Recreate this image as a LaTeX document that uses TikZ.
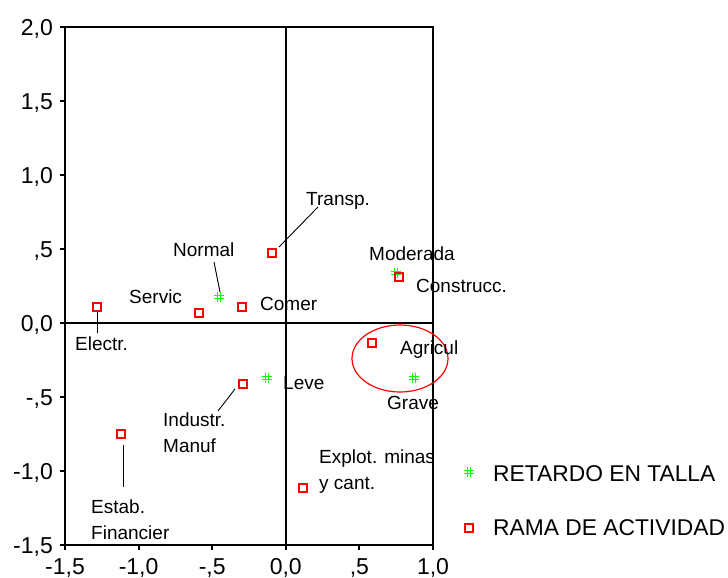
\documentclass[tikz,border=0pt]{standalone}
\usepackage{fontspec}
\setmainfont{Liberation Sans}
\usetikzlibrary{calc,shapes.geometric}
\tikzset{
  frameline/.style={draw=black, line width=1.6pt},
  tickline/.style={draw=black, line width=2pt},
  leader/.style={draw=black, line width=0.9pt},
  sqmark/.style={draw=red, line width=1.3pt, minimum size=8pt, inner sep=0pt, outer sep=0pt},
  starmark/.style={minimum size=12pt, inner sep=0pt, outer sep=0pt,
    path picture={
      \draw[green, line width=1.3pt]
        ([shift={(-5pt,1.7pt)}]path picture bounding box.center) -- ++(10pt,0pt)
        ([shift={(-5pt,-1.7pt)}]path picture bounding box.center) -- ++(10pt,0pt)
        ([shift={(-1.7pt,-5pt)}]path picture bounding box.center) -- ++(0pt,10pt)
        ([shift={(1.7pt,-5pt)}]path picture bounding box.center) -- ++(0pt,10pt);
    }},
  ptlabel/.style={inner sep=0pt, anchor=base west, font=\fontsize{19}{26}\selectfont},
  ptlabel2/.style={inner sep=0pt, anchor=west, align=left, font=\fontsize{19}{26}\selectfont},
  ticklabel/.style={inner sep=0pt, font=\fontsize{23}{26}\selectfont},
  legendlabel/.style={inner sep=0pt, anchor=base west, font=\fontsize{22.8}{26}\selectfont},
  ring/.style={draw=red, line width=1.2pt}
}
\begin{document}
\begin{tikzpicture}[x=1pt,y=-1pt]
\useasboundingbox (0,0) rectangle (728,578);
% frame and axes
\coordinate (tl) at (65,27);
\coordinate (br) at (433,545);
\coordinate (x0t) at (285.8,27);
\coordinate (x0b) at (285.8,545);
\coordinate (y0l) at (65,323);
\coordinate (y0r) at (433,323);
\draw[frameline] (tl) rectangle (br);
\draw[frameline] (x0t) -- (x0b);
\draw[frameline] (y0l) -- (y0r);
% y ticks
\foreach \v/\t [count=\i] in {27/{2,0},101/{1,5},175/{1,0},249/{,5},323/{0,0},397/{-,5},471/{-1,0},545/{-1,5}}{
  \coordinate (yt\i) at (65,\v);
  \draw[tickline] (yt\i) -- ++(-5,0);
  \node[ticklabel, anchor=base east] (yl\i) at (53,\v+8.2) {\t};
}
% x ticks
\foreach \v/\t [count=\i] in {65/{-1,5},138.6/{-1,0},212.2/{-,5},285.8/{0,0},359.4/{,5},433/{1,0}}{
  \coordinate (xt\i) at (\v,545);
  \draw[tickline] (xt\i) -- ++(0,5);
  \node[ticklabel, anchor=base] (xl\i) at (\v,574) {\t};
}
% ellipse
\node[ring, ellipse, minimum width=96pt, minimum height=67pt, inner sep=0pt] (circ) at (400,358.5) {};
% stars (RETARDO EN TALLA)
\node[starmark] (normal) at (219,297) {};
\node[starmark] (moderada) at (396,273) {};
\node[starmark] (grave) at (414,378) {};
\node[starmark] (leve) at (267,378) {};
% squares (RAMA DE ACTIVIDAD)
\node[sqmark] (transp) at (272,253) {};
\node[sqmark] (servic) at (199,313) {};
\node[sqmark] (comer) at (242,307) {};
\node[sqmark] (electr) at (97,307) {};
\node[sqmark] (construcc) at (399,277) {};
\node[sqmark] (agricul) at (372,343) {};
\node[sqmark] (industr) at (243,384) {};
\node[sqmark] (estab) at (121,434) {};
\node[sqmark] (explot) at (303,488) {};
% labels
\node[ptlabel] (Ltransp) at (306,205) {Transp.};
\node[ptlabel] (Lnormal) at (173,256) {Normal};
\node[ptlabel] (Lservic) at (129,303) {Servic};
\node[ptlabel] (Lcomer) at (260,310) {Comer};
\node[ptlabel] (Lelectr) at (75,350) {Electr.};
\node[ptlabel] (Lmoderada) at (369,260) {Moderada};
\node[ptlabel] (Lconstrucc) at (416,292) {Construcc.};
\node[ptlabel] (Lagricul) at (400,354) {Agricul};
\node[ptlabel] (Lgrave) at (387,409) {Grave};
\node[ptlabel] (Lleve) at (283,389) {Leve};
\node[ptlabel2] (Lindustr) at (163,433) {Industr.\\Manuf};
\node[ptlabel2] (Lestab) at (91,520) {Estab.\\Financier};
\node[ptlabel2] (Lexplot) at (319,472) {Explot. minas\\y cant.};
% leader lines
\coordinate (c1a) at (279,247); \coordinate (c1b) at (318,207);
\coordinate (c2a) at (220,292); \coordinate (c2b) at (214,262);
\coordinate (c3a) at (97,312);  \coordinate (c3b) at (97,333);
\coordinate (c4a) at (235,389); \coordinate (c4b) at (218,411);
\coordinate (c5a) at (123,445); \coordinate (c5b) at (123,487);
\draw[leader] (c1a) -- (c1b);
\draw[leader] (c2a) -- (c2b);
\draw[leader] (c3a) -- (c3b);
\draw[leader] (c4a) -- (c4b);
\draw[leader] (c5a) -- (c5b);
% legend
\node[starmark] (legstar) at (469,472) {};
\node[legendlabel] (legstarT) at (493,481) {RETARDO EN TALLA};
\node[sqmark] (legsq) at (469,528) {};
\node[legendlabel] (legsqT) at (493,535) {RAMA DE ACTIVIDAD};
\end{tikzpicture}
\end{document}
